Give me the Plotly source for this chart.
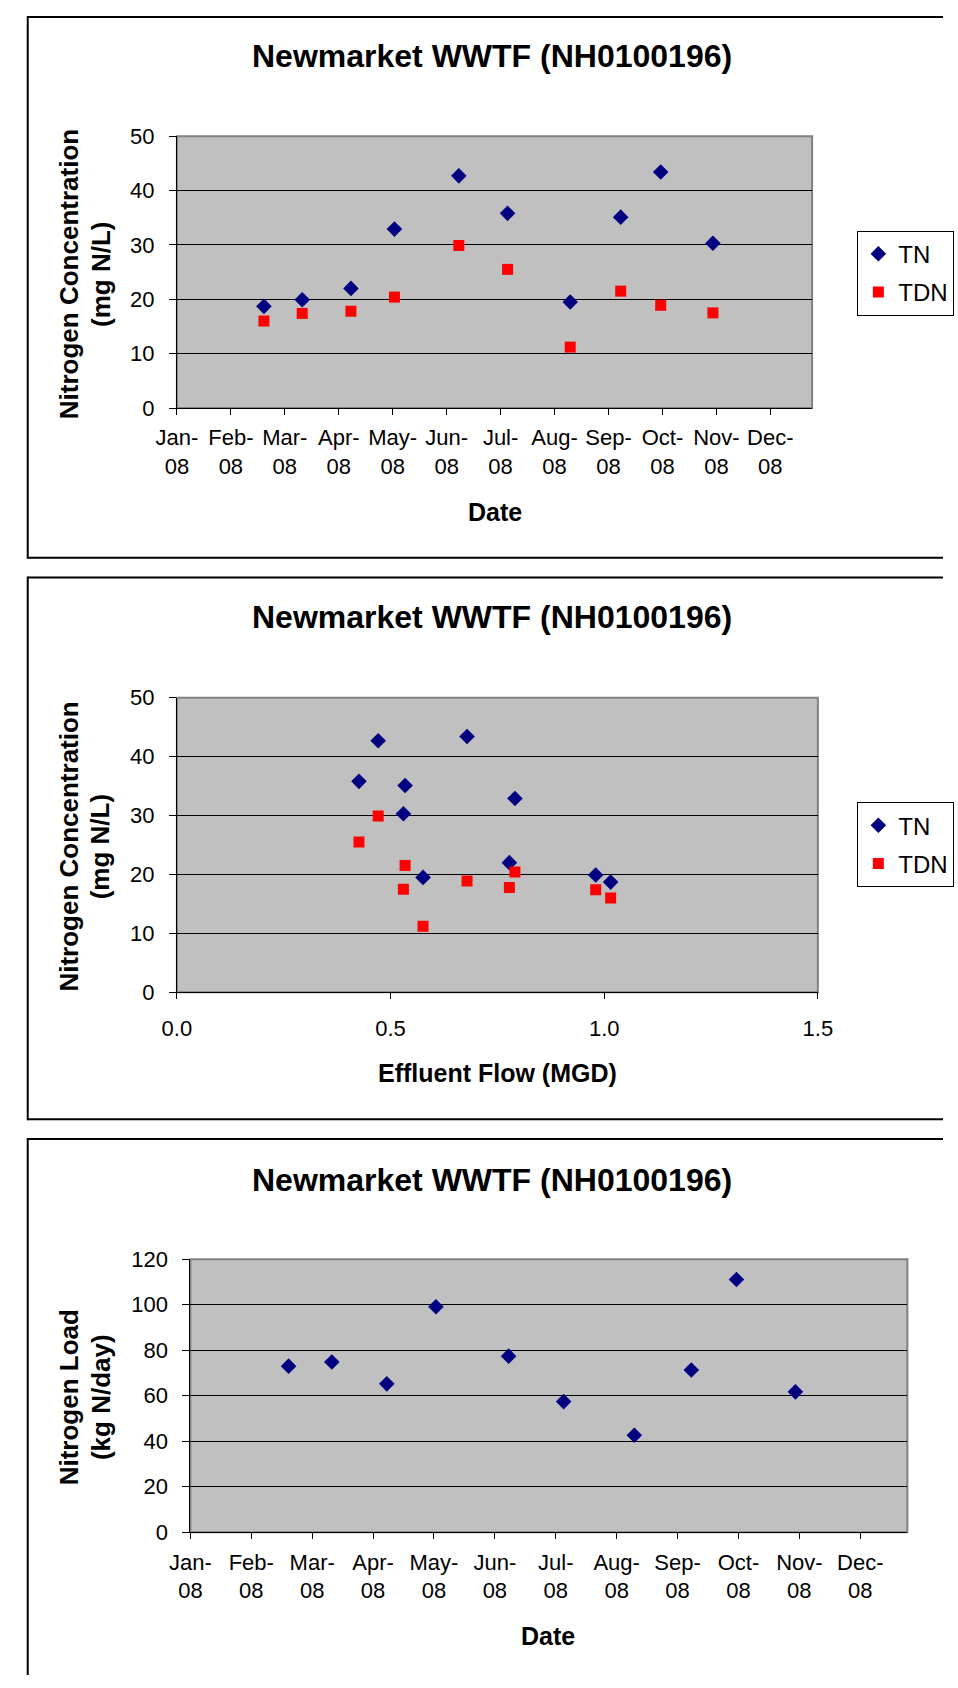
import plotly.graph_objects as go

W, H = 958, 1688

# ---------------- data ----------------
dates = ["2008-02-20", "2008-03-13", "2008-04-10", "2008-05-05", "2008-06-11",
         "2008-07-09", "2008-08-14", "2008-09-12", "2008-10-05", "2008-11-04"]
tn = [18.7, 19.9, 22.0, 32.9, 42.7, 35.8, 19.5, 35.1, 43.4, 30.3]
tdn = [16.0, 17.4, 17.8, 20.4, 29.9, 25.5, 11.2, 21.5, 18.9, 17.5]
flow = [1.015, 0.980, 0.778, 0.791, 0.471, 0.426, 0.576, 0.534, 0.679, 0.530]
load = [73.0, 74.8, 65.2, 99.1, 77.4, 57.4, 42.6, 71.3, 111.1, 61.7]

month_ticks = ["2008-01-01", "2008-02-01", "2008-03-03", "2008-04-03", "2008-05-04",
               "2008-06-04", "2008-07-05", "2008-08-05", "2008-09-05", "2008-10-06",
               "2008-11-06", "2008-12-07"]
month_labels = ["Jan-<br>08", "Feb-<br>08", "Mar-<br>08", "Apr-<br>08", "May-<br>08",
                "Jun-<br>08", "Jul-<br>08", "Aug-<br>08", "Sep-<br>08", "Oct-<br>08",
                "Nov-<br>08", "Dec-<br>08"]
flow_ticks = [0.0, 0.5, 1.0, 1.5]

title_text = "Newmarket WWTF (NH0100196)"

FONT = "Liberation Sans, Arial, sans-serif"
NAVY = "#000080"
RED = "#FF0000"
PLOTBG = "#C0C0C0"


def fx(px):
    return px / W


def fy(py):
    return 1 - py / H


fig = go.Figure()

DIAM = 12
SQ = 11

# Panel 1: concentration vs date
fig.add_trace(go.Scatter(x=dates, y=tn, mode="markers", name="TN",
                         marker=dict(symbol="diamond", size=DIAM, color=NAVY),
                         xaxis="x", yaxis="y", legend="legend", legendgroup="a"))
fig.add_trace(go.Scatter(x=dates, y=tdn, mode="markers", name="TDN",
                         marker=dict(symbol="square", size=SQ, color=RED),
                         xaxis="x", yaxis="y", legend="legend", legendgroup="b"))
# Panel 2: concentration vs flow
fig.add_trace(go.Scatter(x=flow, y=tn, mode="markers", name="TN",
                         marker=dict(symbol="diamond", size=DIAM, color=NAVY),
                         xaxis="x2", yaxis="y2", legend="legend2", legendgroup="c"))
fig.add_trace(go.Scatter(x=flow, y=tdn, mode="markers", name="TDN",
                         marker=dict(symbol="square", size=SQ, color=RED),
                         xaxis="x2", yaxis="y2", legend="legend2", legendgroup="d"))
# Panel 3: load vs date
fig.add_trace(go.Scatter(x=dates, y=load, mode="markers", name="Load",
                         marker=dict(symbol="diamond", size=DIAM, color=NAVY),
                         xaxis="x3", yaxis="y3", showlegend=False))

tickfont = dict(family=FONT, size=22, color="black")

common_x = dict(showgrid=False, zeroline=False, showline=True, linecolor="black",
                linewidth=1, ticks="outside", ticklen=6, tickcolor="black",
                tickfont=tickfont, fixedrange=True)
common_y = dict(showgrid=True, gridcolor="black", gridwidth=1, zeroline=False,
                showline=True, linecolor="black", linewidth=1, ticks="outside",
                ticklen=7, tickcolor="black", tickfont=tickfont,
                ticklabelstandoff=10, fixedrange=True)

panels = [
    # (x0, x1, y0(top), y1(bottom))
    (162, 822, 126, 402),
    (162, 828, 696, 995),
    (176, 921, 1266, 1543),
]

legend_common = dict(xanchor="left", yanchor="top", bgcolor="white",
                     bordercolor="black", borderwidth=1,
                     font=dict(family=FONT, size=24, color="black"),
                     traceorder="grouped", tracegroupgap=4, itemwidth=30)

fig.update_layout(
    width=W, height=H,
    margin=dict(l=0, r=0, t=0, b=0),
    paper_bgcolor="white",
    plot_bgcolor=PLOTBG,
    font=dict(family=FONT, color="black"),
    xaxis=dict(domain=[fx(panels[0][0]), fx(panels[0][1])], anchor="y", type="date",
               range=["2008-01-01", "2008-12-31"], tickvals=month_ticks,
               ticktext=month_labels, ticklabelstandoff=4, **common_x),
    yaxis=dict(domain=[fy(panels[0][3]), fy(panels[0][2])], anchor="x",
               range=[0, 50], dtick=10, **common_y),
    xaxis2=dict(domain=[fx(panels[1][0]), fx(panels[1][1])], anchor="y2",
                range=[0, 1.5], tickvals=flow_ticks, tickformat=".1f",
                ticklabelstandoff=10, **common_x),
    yaxis2=dict(domain=[fy(panels[1][3]), fy(panels[1][2])], anchor="x2",
                range=[0, 50], dtick=10, **common_y),
    xaxis3=dict(domain=[fx(panels[2][0]), fx(panels[2][1])], anchor="y3", type="date",
                range=["2008-01-01", "2008-12-31"], tickvals=month_ticks,
                ticktext=month_labels, ticklabelstandoff=4, **common_x),
    yaxis3=dict(domain=[fy(panels[2][3]), fy(panels[2][2])], anchor="x3",
                range=[0, 120], dtick=20, **common_y),
    legend=dict(x=fx(869), y=fy(222.0), **legend_common),
    legend2=dict(x=fx(869), y=fy(802.0), **legend_common),
)

shapes = []
BL = dict(color="black", width=2)


def seg(x0, y0, x1, y1):
    return dict(type="line", xref="paper", yref="paper",
                x0=fx(x0), y0=fy(y0), x1=fx(x1), y1=fy(y1), line=BL)


# outer panel borders (right edge and last bottom lie outside the picture)
for top, bottom in [(5, 554), (574, 1124)]:
    shapes.append(seg(7, top, W, top))
    shapes.append(seg(7, bottom, W, bottom))
    shapes.append(seg(7, top - 1, 7, bottom + 1))
shapes.append(seg(7, 1144, W, 1144))
shapes.append(seg(7, 1143, 7, H))

# plot-area gray frame
for ax in ["x", "x2", "x3"]:
    shapes.append(dict(type="rect", xref=f"{ax} domain", yref=f"{'y' + ax[1:]} domain",
                       x0=0, x1=1, y0=0, y1=1, layer="below",
                       line=dict(color="#808080", width=2), fillcolor="rgba(0,0,0,0)"))
fig.update_layout(shapes=shapes)

ann = []
for cy in [45, 614, 1186]:
    ann.append(dict(text=f"<b>{title_text}</b>", x=fx(489), y=fy(cy), xref="paper", yref="paper",
                    xanchor="center", yanchor="middle", showarrow=False,
                    font=dict(family=FONT, size=32, color="black")))
# x-axis titles
for txt, cx, cy in [("Date", 492, 508), ("Effluent Flow (MGD)", 495, 1077), ("Date", 548, 1648)]:
    ann.append(dict(text=f"<b>{txt}</b>", x=fx(cx), y=fy(cy), xref="paper", yref="paper",
                    xanchor="center", yanchor="middle", showarrow=False,
                    font=dict(family=FONT, size=25, color="black")))
# y-axis titles (two lines each)
for l1, l2, cy in [("Nitrogen Concentration", "(mg N/L)", 266),
                   ("Nitrogen Concentration", "(mg N/L)", 847),
                   ("Nitrogen Load", "(kg N/day)", 1406)]:
    ann.append(dict(text=f"<b>{l1}</b>", x=fx(50), y=fy(cy), xref="paper", yref="paper",
                    xanchor="center", yanchor="middle", showarrow=False, textangle=-90,
                    font=dict(family=FONT, size=26, color="black")))
    ann.append(dict(text=f"<b>{l2}</b>", x=fx(83), y=fy(cy), xref="paper", yref="paper",
                    xanchor="center", yanchor="middle", showarrow=False, textangle=-90,
                    font=dict(family=FONT, size=26, color="black")))
fig.update_layout(annotations=ann)

fig.write_html("out.html", config={"displayModeBar": False},
               post_script="document.body.style.margin='0px';document.body.style.overflow='hidden';")
